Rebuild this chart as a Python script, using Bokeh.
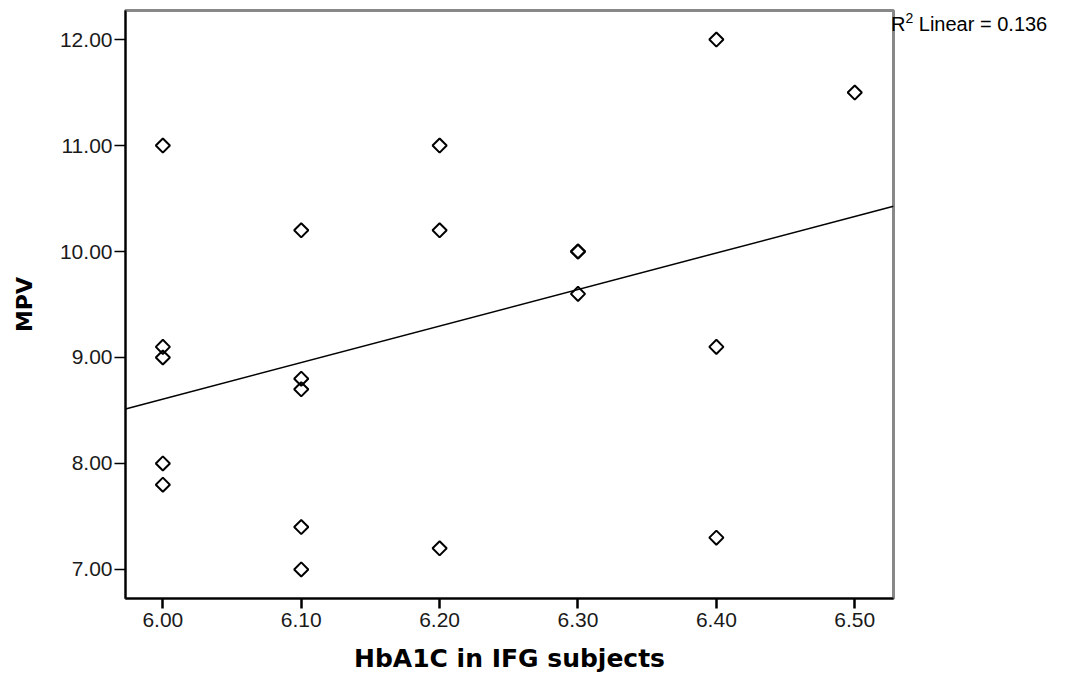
import numpy as np
from bokeh.plotting import figure
from bokeh.layouts import row
from bokeh.models import Range1d, FixedTicker, NumeralTickFormatter, Div
from bokeh.embed import file_html
from bokeh.resources import INLINE

# Data
hba1c = [6.0, 6.0, 6.0, 6.0, 6.0,
         6.1, 6.1, 6.1, 6.1, 6.1,
         6.2, 6.2, 6.2,
         6.3, 6.3, 6.3,
         6.4, 6.4, 6.4,
         6.5]
mpv = [11.0, 9.1, 9.0, 8.0, 7.8,
       10.2, 8.8, 8.7, 7.4, 7.0,
       11.0, 10.2, 7.2,
       10.0, 10.0, 9.6,
       12.0, 9.1, 7.3,
       11.5]
x_ticks = [6.0, 6.1, 6.2, 6.3, 6.4, 6.5]
y_ticks = [7.0, 8.0, 9.0, 10.0, 11.0, 12.0]

x_lo, x_hi = 5.973, 6.528
y_lo, y_hi = 6.726, 12.274

slope, intercept = np.polyfit(hba1c, mpv, 1)
pred = np.polyval([slope, intercept], hba1c)
r2 = 1 - np.sum((np.array(mpv) - pred) ** 2) / np.sum((np.array(mpv) - np.mean(mpv)) ** 2)

p = figure(width=895, height=680, output_backend="svg", toolbar_location=None,
           x_range=Range1d(x_lo, x_hi), y_range=Range1d(y_lo, y_hi),
           min_border_left=125, min_border_right=2, min_border_top=10, min_border_bottom=82)
p.grid.visible = False
p.background_fill_color = "white"
p.border_fill_color = "white"
p.outline_line_color = "#888888"
p.outline_line_width = 3

fx = [x_lo, x_hi]
fy = [slope * v + intercept for v in fx]
p.line(fx, fy, line_color="black", line_width=1.5)

p.scatter(hba1c, mpv, marker="square", angle=np.pi / 4, size=10,
          fill_color="white", fill_alpha=0, line_color="black", line_width=2)

for ax in (p.xaxis, p.yaxis):
    ax.axis_line_color = "black"
    ax.axis_line_width = 2
    ax.major_tick_line_color = "black"
    ax.minor_tick_line_color = None
    ax.major_tick_in = 0
    ax.major_label_text_font = "Liberation Sans"
    ax.major_label_text_font_size = "21px"
    ax.major_label_text_color = "#1a1a1a"
    ax.axis_label_text_font = "DejaVu Sans"
    ax.axis_label_text_font_style = "bold"
    ax.axis_label_text_color = "black"

p.xaxis.ticker = FixedTicker(ticks=x_ticks)
p.yaxis.ticker = FixedTicker(ticks=y_ticks)
p.xaxis.formatter = NumeralTickFormatter(format="0.00")
p.yaxis.formatter = NumeralTickFormatter(format="0.00")
p.xaxis.major_tick_out = 10
p.xaxis.major_tick_line_width = 2.5
p.yaxis.major_tick_out = 11
p.yaxis.major_tick_line_width = 1.5
p.xaxis.major_label_standoff = 4
p.yaxis.major_label_standoff = 2
p.xaxis.axis_label = "HbA1C in IFG subjects"
p.yaxis.axis_label = "MPV"
p.xaxis.axis_label_text_font_size = "25px"
p.yaxis.axis_label_text_font_size = "22px"
p.xaxis.axis_label_standoff = 14
p.yaxis.axis_label_standoff = 20

r2_div = Div(text="R<sup style='font-size:14px'>2</sup> Linear = %.3f" % r2,
             width=175, height=40,
             styles={"font-family": "Liberation Sans", "font-size": "20px",
                     "color": "black", "margin-top": "8px", "margin-left": "-4px",
                     "white-space": "nowrap"})

layout = row(p, r2_div)
open("out.html", "w").write(file_html(layout, INLINE))
